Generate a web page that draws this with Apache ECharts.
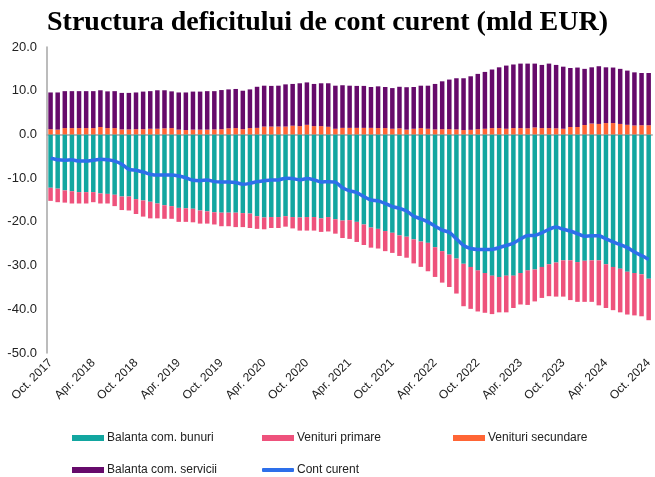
<!DOCTYPE html>
<html>
<head>
<meta charset="utf-8">
<script src="https://cdn.jsdelivr.net/npm/echarts@6/dist/echarts.min.js"></script>
<style>
html,body{margin:0;padding:0;background:#fff;}
#c{width:655px;height:477px;}
</style>
</head>
<body>
<div id="c"></div>
<script>
// Month names (Romanian abbreviations) and range Oct. 2017 – Oct. 2024
var monthNames = ['Ian.','Feb.','Mar.','Apr.','Mai','Iun.','Iul.','Aug.','Sep.','Oct.','Nov.','Dec.'];
var startYear = 2017, startMonth = 9, nMonths = 85;
var categories = [];
for (var i = 0; i < nMonths; i++) {
  var m = (startMonth + i) % 12;
  var y = startYear + Math.floor((startMonth + i) / 12);
  categories.push(monthNames[m] + ' ' + y);
}

var yTicks = [-50, -40, -30, -20, -10, 0, 10, 20];

var goods = [
-12.2,-12.4,-12.8,-13.0,-13.2,-13.2,-13.2,-13.5,-13.6,-13.8,
-14.2,-14.2,-14.8,-15.1,-15.4,-15.8,-16.2,-16.4,-16.8,-16.9,
-17.0,-17.4,-17.6,-17.8,-17.9,-17.9,-17.9,-18.0,-18.1,-18.7,
-19.0,-18.9,-18.9,-18.7,-18.9,-19.0,-18.9,-18.9,-19.2,-18.9,
-19.4,-19.7,-19.6,-20.0,-20.6,-21.3,-21.6,-22.1,-22.5,-23.1,
-23.4,-24.0,-24.5,-24.8,-25.8,-26.7,-27.5,-28.4,-29.6,-30.3,
-31.1,-31.7,-32.3,-32.6,-32.3,-32.3,-31.7,-31.1,-30.9,-30.3,
-29.7,-29.3,-28.8,-28.8,-29.2,-28.9,-28.8,-28.8,-29.7,-30.3,
-30.7,-31.4,-31.7,-32.0,-33.0];

var primary = [
-3.0,-3.1,-2.8,-2.8,-2.6,-2.6,-2.3,-2.3,-2.2,-2.6,
-3.1,-3.2,-3.4,-3.7,-3.8,-3.4,-3.1,-2.9,-3.2,-3.1,
-3.1,-3.0,-2.8,-2.8,-3.1,-3.1,-3.3,-3.2,-3.3,-2.9,
-2.7,-2.5,-2.5,-2.4,-2.6,-3.0,-3.1,-3.1,-3.1,-3.3,
-3.3,-4.0,-4.3,-4.6,-4.7,-4.6,-4.5,-4.6,-4.6,-4.7,
-4.8,-5.5,-5.8,-6.5,-6.8,-7.2,-7.4,-8.0,-9.7,-9.6,
-9.4,-9.1,-8.8,-8.1,-8.4,-7.4,-7.2,-7.9,-7.3,-7.1,
-7.3,-7.8,-8.3,-9.1,-9.1,-9.4,-9.5,-10.3,-10.0,-9.9,
-10.0,-9.8,-9.7,-9.6,-9.5];

var secondary = [
1.2,1.1,1.45,1.45,1.45,1.45,1.45,1.7,1.45,1.45,
1.15,1.15,1.2,1.2,1.3,1.3,1.4,1.45,1.1,1.0,
1.1,1.1,1.1,1.15,1.2,1.4,1.45,1.2,1.45,1.5,
1.8,1.8,1.8,1.8,2.0,1.9,2.2,1.9,1.9,1.75,
1.3,1.5,1.5,1.5,1.5,1.5,1.45,1.45,1.3,1.4,
1.1,1.3,1.45,1.3,1.15,1.2,1.2,1.15,1.0,1.05,
1.2,1.3,1.45,1.45,1.3,1.45,1.45,1.4,1.6,1.45,
1.45,1.4,1.3,1.7,1.7,2.15,2.5,2.4,2.6,2.6,
2.4,2.2,2.05,2.1,2.1];

var services = [
8.4,8.5,8.45,8.45,8.45,8.45,8.45,8.4,8.4,8.45,
8.35,8.35,8.4,8.6,8.6,8.8,8.7,8.4,8.5,8.6,
8.7,8.7,8.8,8.75,8.95,8.9,8.95,8.8,8.85,9.4,
9.35,9.3,9.35,9.65,9.55,9.8,9.7,9.65,9.8,9.95,
9.85,9.75,9.65,9.6,9.6,9.35,9.55,9.4,9.3,9.5,
9.7,9.55,9.7,9.85,10.4,10.95,11.35,11.7,11.85,12.25,
12.65,13.0,13.4,13.9,14.45,14.55,14.75,14.8,14.6,14.45,
14.75,14.5,14.2,13.5,13.6,12.85,12.85,13.2,12.75,12.7,
12.6,12.4,12.15,11.95,11.95];

var contCurent = [
-5.45,-5.8,-5.9,-5.8,-6.1,-6.1,-5.9,-5.7,-5.8,-6.1,
-6.8,-8.0,-8.2,-8.6,-9.1,-9.3,-9.3,-9.3,-9.5,-9.9,
-10.5,-10.6,-10.4,-10.8,-10.9,-10.9,-11.0,-11.4,-11.2,-10.8,
-10.6,-10.4,-10.4,-10.0,-10.1,-10.4,-10.1,-10.4,-10.9,-10.8,
-10.9,-12.2,-12.9,-13.3,-14.2,-15.0,-15.2,-15.8,-16.5,-16.9,
-17.5,-18.7,-19.3,-20.0,-21.0,-21.9,-22.4,-23.9,-25.4,-26.1,
-26.3,-26.3,-26.3,-25.9,-25.4,-24.9,-23.9,-23.1,-23.1,-22.5,
-21.7,-21.2,-21.7,-22.1,-22.7,-23.3,-23.2,-23.2,-23.9,-24.6,
-25.2,-25.9,-26.9,-27.7,-28.6];

var seriesNames = ['Balanta com. bunuri','Venituri primare','Venituri secundare','Balanta com. servicii','Cont curent'];
var colors = ['#12a6a0','#ee527c','#ff6535','#660a6b','#2d6fea'];

var chart = echarts.init(document.getElementById('c'), null, {renderer:'canvas'});
var barW = 4.5;
function legendAt(name, left, top, icon, h) {
  return {
    data: [{name: name, icon: icon}],
    left: left, top: top,
    itemWidth: 32, itemHeight: h, itemGap: 0,
    textStyle: {fontFamily: 'Liberation Sans, Arial, sans-serif', fontSize: 12, color: '#222', padding: [0,0,0,-2]},
    padding: 0, selectedMode: false
  };
}
var option = {
  animation: false,
  backgroundColor: '#fff',
  title: {
    text: 'Structura deficitului de cont curent (mld EUR)',
    left: 'center', top: 4,
    textStyle: {fontFamily: 'Liberation Serif, serif', fontWeight: 'bold', fontSize: 28, color: '#000'}
  },
  legend: [
    legendAt(seriesNames[0], 72, 432, 'rect', 6),
    legendAt(seriesNames[1], 262, 432, 'rect', 6),
    legendAt(seriesNames[2], 453, 432, 'rect', 6),
    legendAt(seriesNames[3], 72, 464, 'rect', 6),
    legendAt(seriesNames[4], 262, 464, 'roundRect', 4)
  ],
  grid: {left: 47, top: 47, width: 611, height: 306, containLabel: false},
  xAxis: {
    type: 'category', data: categories, boundaryGap: true,
    axisLine: {show: true, onZero: true, lineStyle: {color: '#a6a6a6', width: 1.5}},
    axisTick: {show: false},
    axisLabel: {interval: 5, rotate: 45, margin: 8, fontSize: 12, color: '#222',
      fontFamily: 'Liberation Sans, Arial, sans-serif'},
    splitLine: {show: false}
  },
  yAxis: {
    type: 'value', min: yTicks[0], max: yTicks[yTicks.length-1], interval: 10,
    axisLine: {show: true, lineStyle: {color: '#a6a6a6', width: 1.5}},
    axisTick: {show: false},
    splitLine: {show: false},
    axisLabel: {margin: 10, fontSize: 13, color: '#222', fontFamily: 'Liberation Sans, Arial, sans-serif',
      formatter: function (v) { return v.toFixed(1); }}
  },
  series: [
    {name: seriesNames[0], type: 'bar', stack: 'a', data: goods, barWidth: barW, itemStyle: {color: colors[0]}},
    {name: seriesNames[1], type: 'bar', stack: 'a', data: primary, barWidth: barW, itemStyle: {color: colors[1]}},
    {name: seriesNames[2], type: 'bar', stack: 'a', data: secondary, barWidth: barW, itemStyle: {color: colors[2]}},
    {name: seriesNames[3], type: 'bar', stack: 'a', data: services, barWidth: barW, itemStyle: {color: colors[3]}},
    {name: seriesNames[4], type: 'line', data: contCurent, symbol: 'none', smooth: 0.2,
      lineStyle: {color: colors[4], width: 3.5}, itemStyle: {color: colors[4]}, z: 5}
  ]
};
chart.setOption(option);
</script>
</body>
</html>
